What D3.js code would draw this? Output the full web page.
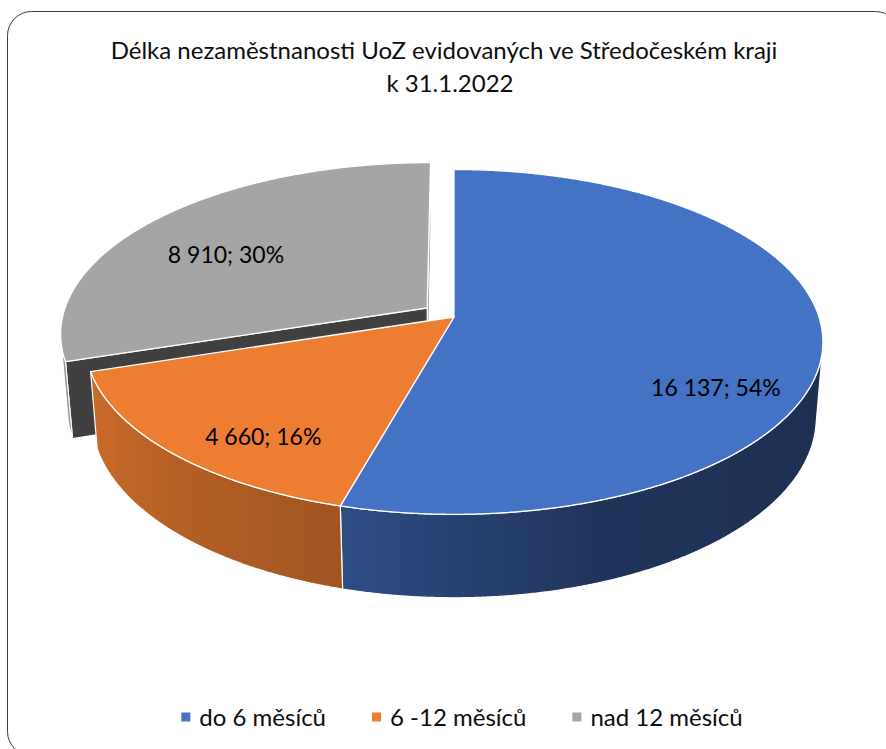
<!DOCTYPE html>
<html><head><meta charset="utf-8">
<script src="https://cdn.jsdelivr.net/npm/d3@7"></script>
<style>html,body{margin:0;padding:0;background:#fff;} svg{display:block;}</style>
</head><body>
<svg id="chart" width="886" height="749"></svg>
<script>
// ---------- data ----------
const titleLines = ["Délka nezaměstnanosti UoZ evidovaných ve Středočeském kraji", "k 31.1.2022"];
const categories = ["do 6 měsíců", "6 -12 měsíců", "nad 12 měsíců"];
const values = [16137, 4660, 8910];
const colors = ["#4472C4", "#ED7D31", "#A5A5A5"];
const explodeFrac = [0, 0, 0.0915];

// ---------- layout ----------
const W = 886, H = 749;
const FONT = "Lato, 'Open Sans', 'Noto Sans', sans-serif";
const TEXT = "#0d0d0d";
const labelRadius = [0.714, 0.70, 0.735];
const labelDrop = [54, 28, 14];
const P = {cx: 454, cy: 317, k: 365, D: 6.135, sa: 0.4625, ca: 0.8866, h: 0.236};

const svg = d3.select("#chart");
const defs = svg.append("defs");

svg.append("rect").attr("x", 0).attr("y", 0).attr("width", W).attr("height", H).attr("fill", "#fff");
svg.append("rect").attr("x", 7.5).attr("y", 11.5).attr("width", 892).attr("height", 744)
  .attr("rx", 24).attr("fill", "#fff").attr("stroke", "#3a3a3a").attr("stroke-width", 1);

// title
svg.append("g").selectAll("text").data(titleLines).join("text")
  .attr("x", (d, i) => i === 0 ? 444 : 450).attr("y", (d, i) => 59 + i * 33)
  .attr("text-anchor", "middle").attr("font-family", FONT).attr("font-size", 24)
  .attr("fill", TEXT).text(d => d);

// projection of 3D point (X right, Y up, Z away from viewer) to screen
function proj(X, Y, Z) {
  const depth = P.D - Y * P.sa + Z * P.ca;
  const up = Y * P.ca + Z * P.sa;
  const s = P.k * P.D / depth;
  return [P.cx + X * s, P.cy - up * s];
}

const pie = d3.pie().sort(null).value(d => d)(values);
const total = d3.sum(values);
const fmt = d3.formatLocale({thousands: " ", grouping: [3], decimal: ",", currency: ["", ""]}).format(",d");

const shade = d3.scaleLinear().domain([100, 160, 196, 260]).range([0.41, 0.46, 0.68, 0.89]).clamp(true);
function shadeColor(c, f) { const r = d3.rgb(c); return d3.rgb(r.r * f, r.g * f, r.b * f).formatHex(); }

const N = values.length;
const slices = pie.map((p, i) => {
  const mid = (p.startAngle + p.endAngle) / 2;
  const e = explodeFrac[i];
  return {i, p, mid, ox: e * Math.sin(mid), oz: e * Math.cos(mid)};
});
// far slices first
const order = slices.slice().sort((a, b) => (b.oz + Math.cos(b.mid)) - (a.oz + Math.cos(a.mid)));

const line = d3.line();
const STEP = Math.PI / 720;
function arcPts(s, a0, a1, Y) {
  const pts = [];
  const n = Math.max(2, Math.ceil(Math.abs(a1 - a0) / STEP));
  for (let j = 0; j <= n; j++) {
    const t = a0 + (a1 - a0) * j / n;
    pts.push(proj(s.ox + Math.sin(t), Y, s.oz + Math.cos(t)));
  }
  return pts;
}
function rimVisible(s, t) {
  return -s.ox * Math.sin(t) - 1 - (P.D * P.ca + s.oz) * Math.cos(t) > 0;
}

const g = svg.append("g");
let gid = 0;
order.forEach(s => {
  const {p, i} = s;
  const col = colors[i];
  const cTop = proj(s.ox, 0, s.oz), cBot = proj(s.ox, -P.h, s.oz);
  // radial faces (only where a gap exists next to an exploded slice)
  [["end", p.endAngle, (i + 1) % N], ["start", p.startAngle, (i + N - 1) % N]].forEach(([kind, t, nb]) => {
    if (!(explodeFrac[i] > 0 || explodeFrac[nb] > 0)) return;
    const n = kind === "end" ? [Math.cos(t), -Math.sin(t)] : [-Math.cos(t), Math.sin(t)];
    const dot = -s.ox * n[0] + (-P.D * P.ca - s.oz) * n[1];
    if (dot <= 1e-6) return;
    const rt = proj(s.ox + Math.sin(t), 0, s.oz + Math.cos(t));
    const rb = proj(s.ox + Math.sin(t), -P.h, s.oz + Math.cos(t));
    g.append("path").attr("d", line([cTop, rt, rb, cBot]) + "Z")
      .attr("fill", shadeColor(col, kind === "start" ? 0.39 : 0.85))
      .attr("stroke", "#fff").attr("stroke-width", 1.2).attr("stroke-linejoin", "round");
  });
  // rim (visible segments)
  const segs = [];
  let cur = null;
  const n = Math.ceil((p.endAngle - p.startAngle) / (Math.PI / 1800));
  for (let j = 0; j <= n; j++) {
    const t = p.startAngle + (p.endAngle - p.startAngle) * j / n;
    if (rimVisible(s, t)) { if (!cur) { cur = [t, t]; segs.push(cur); } cur[1] = t; }
    else cur = null;
  }
  segs.forEach(([a0, a1]) => {
    if (a1 - a0 < 1e-4) return;
    const top = arcPts(s, a0, a1, 0), bot = arcPts(s, a1, a0, -P.h);
    const id = "rim" + (gid++);
    const xs = top.map(q => q[0]);
    const x0 = d3.min(xs), x1 = d3.max(xs);
    const grad = defs.append("linearGradient").attr("id", id).attr("gradientUnits", "userSpaceOnUse")
      .attr("x1", x0).attr("x2", x1).attr("y1", 0).attr("y2", 0);
    const stops = [];
    for (let j = 0; j <= 24; j++) {
      const t = a0 + (a1 - a0) * j / 24;
      const q = proj(s.ox + Math.sin(t), 0, s.oz + Math.cos(t));
      stops.push({o: x1 > x0 ? (q[0] - x0) / (x1 - x0) : 0, c: shadeColor(col, shade(t * 180 / Math.PI))});
    }
    stops.sort((a, b) => a.o - b.o).forEach(st => grad.append("stop").attr("offset", st.o).attr("stop-color", st.c));
    g.append("path").attr("d", line(top.concat(bot)) + "Z")
      .attr("fill", `url(#${id})`).attr("stroke", "#fff").attr("stroke-width", 1.2).attr("stroke-linejoin", "round");
  });
  // top face
  const topPts = [cTop].concat(arcPts(s, p.startAngle, p.endAngle, 0));
  g.append("path").attr("d", line(topPts) + "Z")
    .attr("fill", col).attr("stroke", "#fff").attr("stroke-width", 1.3).attr("stroke-linejoin", "round");
});

// data labels
slices.forEach(s => {
  const r = labelRadius[s.i];
  const q = proj(s.ox + r * Math.sin(s.mid), 0, s.oz + r * Math.cos(s.mid));
  const pct = Math.round(values[s.i] / total * 100);
  g.append("text").attr("x", q[0]).attr("y", q[1] + labelDrop[s.i])
    .attr("dy", "0.36em").attr("text-anchor", "middle")
    .attr("font-family", FONT).attr("font-size", 23).attr("fill", "#000")
    .text(`${fmt(values[s.i])}; ${pct}%`);
});

// legend
const leg = svg.append("g");
const items = leg.selectAll("g").data(categories).join("g");
items.append("rect").attr("width", 9).attr("height", 9).attr("y", -4.5).attr("fill", (d, i) => colors[i]);
items.append("text").attr("x", 18).attr("dy", "0.36em").attr("font-family", FONT).attr("font-size", 24)
  .attr("fill", TEXT).text(d => d);
let xCur = 0;
const xs = [];
items.each(function () {
  xs.push(xCur);
  const w = d3.select(this).select("text").node().getComputedTextLength();
  xCur += 18 + w + 46;
});
const legW = xCur - 46;
const legX0 = 462 - legW / 2;
items.attr("transform", (d, i) => `translate(${legX0 + xs[i]},717)`);
</script>
</body></html>
